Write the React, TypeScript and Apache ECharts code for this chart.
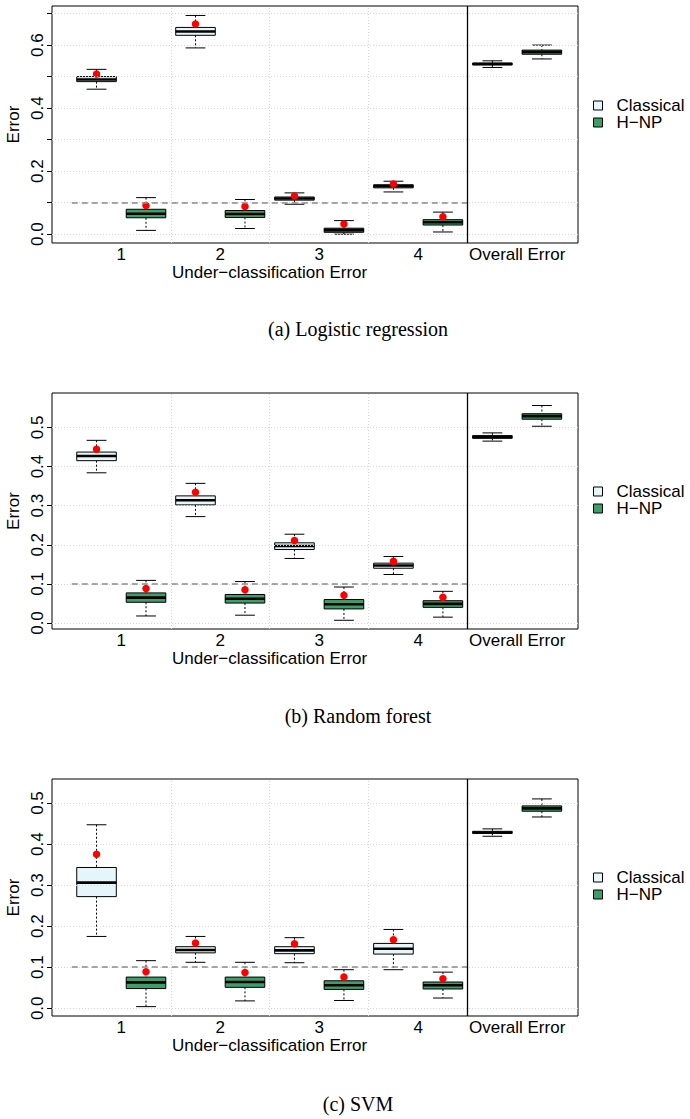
import React, { useEffect, useRef } from "react";
import * as echarts from "echarts";

// ---- data ----
const xLabels = ["1", "2", "3", "4", "Overall Error"];
const xLabelPos = [1.5, 3.5, 5.5, 7.5, 9.5];
const classicalPos = [1, 3, 5, 7, 9];
const hnpPos = [2, 4, 6, 8, 10];
const captions = ["(a) Logistic regression", "(b) Random forest", "(c) SVM"];

// [low whisker, Q1, median, Q3, high whisker]
const lrClassical = [
  [0.46, 0.484, 0.491, 0.5, 0.523],
  [0.591, 0.631, 0.643, 0.656, 0.694],
  [0.095, 0.108, 0.113, 0.118, 0.131],
  [0.134, 0.147, 0.152, 0.157, 0.168],
  [0.529, 0.537, 0.54, 0.543, 0.55],
];
const lrHnp = [
  [0.012, 0.052, 0.065, 0.079, 0.116],
  [0.018, 0.053, 0.064, 0.075, 0.11],
  [0.0, 0.006, 0.013, 0.019, 0.043],
  [0.007, 0.029, 0.038, 0.046, 0.07],
  [0.556, 0.571, 0.578, 0.584, 0.6],
];
const lrClassicalMean = [0.508, 0.667, 0.121, 0.159];
const lrHnpMean = [0.091, 0.088, 0.032, 0.055];

const rfClassical = [
  [0.384, 0.415, 0.427, 0.437, 0.467],
  [0.272, 0.302, 0.314, 0.325, 0.357],
  [0.165, 0.188, 0.197, 0.205, 0.227],
  [0.124, 0.14, 0.147, 0.153, 0.17],
  [0.465, 0.472, 0.476, 0.479, 0.486],
];
const rfHnp = [
  [0.018, 0.053, 0.065, 0.077, 0.109],
  [0.02, 0.051, 0.062, 0.073, 0.106],
  [0.007, 0.036, 0.048, 0.06, 0.092],
  [0.015, 0.04, 0.049, 0.057, 0.081],
  [0.503, 0.521, 0.529, 0.535, 0.556],
];
const rfClassicalMean = [0.444, 0.334, 0.211, 0.158];
const rfHnpMean = [0.088, 0.085, 0.071, 0.066];

const svmClassical = [
  [0.175, 0.272, 0.306, 0.343, 0.447],
  [0.112, 0.135, 0.142, 0.15, 0.175],
  [0.111, 0.133, 0.141, 0.15, 0.172],
  [0.094, 0.132, 0.145, 0.158, 0.192],
  [0.419, 0.426, 0.428, 0.431, 0.437],
];
const svmHnp = [
  [0.004, 0.048, 0.063, 0.076, 0.116],
  [0.018, 0.051, 0.064, 0.076, 0.112],
  [0.019, 0.046, 0.056, 0.067, 0.094],
  [0.025, 0.047, 0.056, 0.064, 0.088],
  [0.466, 0.48, 0.487, 0.493, 0.51],
];
const svmClassicalMean = [0.375, 0.159, 0.157, 0.167];
const svmHnpMean = [0.089, 0.087, 0.076, 0.072];

const lrTicks = [0, 0.1, 0.2, 0.3, 0.4, 0.5, 0.6, 0.7];
const lrTickLabels = [0, 0.2, 0.4, 0.6];
const rfTicks = [0, 0.1, 0.2, 0.3, 0.4, 0.5];
const rfTickLabels = [0, 0.1, 0.2, 0.3, 0.4, 0.5];
const svmTicks = [0, 0.1, 0.2, 0.3, 0.4, 0.5];
const svmTickLabels = [0, 0.1, 0.2, 0.3, 0.4, 0.5];
const targetLevel = 0.1;
const groupBoundaries = [2.5, 4.5, 6.5];
const overallBoundary = 8.5;

// ---- styling ----
const SANS = "'Liberation Sans', Arial, sans-serif";
const SERIF = "'Liberation Serif', 'Times New Roman', serif";
const C_FILL = "#e6f5f9";
const H_FILL = "#3d9e69";

const panels = [
  { classical: lrClassical, hnp: lrHnp, cMean: lrClassicalMean, hMean: lrHnpMean, ticks: lrTicks, labels: lrTickLabels, min: -0.028, max: 0.724, top: 6, height: 237, legendTop: 97, caption: 329 },
  { classical: rfClassical, hnp: rfHnp, cMean: rfClassicalMean, hMean: rfHnpMean, ticks: rfTicks, labels: rfTickLabels, min: -0.0153, max: 0.588, top: 393, height: 236, legendTop: 483, caption: 716 },
  { classical: svmClassical, hnp: svmHnp, cMean: svmClassicalMean, hMean: svmHnpMean, ticks: svmTicks, labels: svmTickLabels, min: -0.0188, max: 0.5585, top: 779, height: 237, legendTop: 869, caption: 1104 },
];

function boxRenderer(fill: string) {
  return (params: any, api: any) => {
    const x = api.value(0);
    const lo = api.coord([x, api.value(1)]);
    const q1 = api.coord([x, api.value(2)]);
    const md = api.coord([x, api.value(3)]);
    const q3 = api.coord([x, api.value(4)]);
    const hi = api.coord([x, api.value(5)]);
    const bw = api.size([0.8, 0])[0];
    const half = bw / 2;
    const cap = bw / 4;
    const cx = lo[0];
    const dashed = { stroke: "#000", lineWidth: 1, lineDash: [2, 2] };
    const solid = { stroke: "#000", lineWidth: 1 };
    return {
      type: "group",
      children: [
        { type: "line", shape: { x1: cx, y1: hi[1], x2: cx, y2: q3[1] }, style: dashed },
        { type: "line", shape: { x1: cx, y1: q1[1], x2: cx, y2: lo[1] }, style: dashed },
        { type: "line", shape: { x1: cx - cap, y1: hi[1], x2: cx + cap, y2: hi[1] }, style: solid },
        { type: "line", shape: { x1: cx - cap, y1: lo[1], x2: cx + cap, y2: lo[1] }, style: solid },
        { type: "rect", shape: { x: cx - half, y: q3[1], width: bw, height: q1[1] - q3[1] }, style: { fill, stroke: "#000", lineWidth: 1 } },
        { type: "line", shape: { x1: cx - half, y1: md[1], x2: cx + half, y2: md[1] }, style: { stroke: "#000", lineWidth: 2.6 } },
      ],
    };
  };
}

function buildOption() {
  const grid: any[] = [];
  const xAxis: any[] = [];
  const yAxis: any[] = [];
  const series: any[] = [];
  const legend: any[] = [];
  const graphic: any[] = [];

  panels.forEach((p, i) => {
    grid.push({ left: 52, top: p.top, width: 526, height: p.height, show: true, borderColor: "#000", borderWidth: 1, backgroundColor: "transparent" });
    xAxis.push({
      type: "value", gridIndex: i, min: 0.1, max: 10.73,
      axisLine: { show: false }, axisTick: { show: false }, splitLine: { show: false },
      axisLabel: {
        customValues: xLabelPos, margin: 5, color: "#000", fontSize: 17, fontFamily: SANS, lineHeight: 13,
        formatter: (v: number) => { const k = xLabelPos.indexOf(v); return k >= 0 ? xLabels[k] : ""; },
      },
    });
    yAxis.push({
      type: "value", gridIndex: i, min: p.min, max: p.max,
      axisLine: { show: false }, splitLine: { show: false },
      axisTick: { show: true, customValues: p.ticks, length: 5, lineStyle: { color: "#000" } },
      axisLabel: {
        customValues: p.labels, rotate: 90, margin: 6, color: "#000", fontSize: 17, fontFamily: SANS,
        formatter: (v: number) => v.toFixed(1),
      },
    });

    // reference lines (grid, threshold, separator)
    const gridLine = { type: [1, 2], color: "#d6d6d6", width: 1 };
    series.push({
      type: "line", xAxisIndex: i, yAxisIndex: i, data: [], silent: true, z: 1,
      markLine: {
        silent: true, symbol: ["none", "none"], label: { show: false }, animation: false,
        data: [
          ...p.ticks.map((t) => ({ yAxis: t, lineStyle: gridLine })),
          ...groupBoundaries.map((b) => ({ xAxis: b, lineStyle: gridLine })),
          [
            { coord: [0.5, targetLevel], lineStyle: { type: [6, 4], color: "#8a8a8a", width: 1.5 } },
            { coord: [overallBoundary, targetLevel] },
          ],
          { xAxis: overallBoundary, lineStyle: { type: "solid", color: "#000", width: 1.3 } },
        ],
      },
    });

    series.push({
      type: "custom", name: "Classical", xAxisIndex: i, yAxisIndex: i, z: 3,
      itemStyle: { color: C_FILL, borderColor: "#000" },
      renderItem: boxRenderer(C_FILL),
      encode: { x: 0, y: [1, 2, 3, 4, 5] },
      data: p.classical.map((b, k) => [classicalPos[k], ...b]),
    });
    series.push({
      type: "custom", name: "H−NP", xAxisIndex: i, yAxisIndex: i, z: 3,
      itemStyle: { color: H_FILL, borderColor: "#000" },
      renderItem: boxRenderer(H_FILL),
      encode: { x: 0, y: [1, 2, 3, 4, 5] },
      data: p.hnp.map((b, k) => [hnpPos[k], ...b]),
    });
    series.push({
      type: "scatter", name: "mean", xAxisIndex: i, yAxisIndex: i, z: 4,
      symbol: "circle", symbolSize: 7.5, itemStyle: { color: "#ff0000", opacity: 1 },
      data: [
        ...p.cMean.map((m, k) => [classicalPos[k], m]),
        ...p.hMean.map((m, k) => [hnpPos[k], m]),
      ],
    });

    legend.push({
      left: 593, top: p.legendTop, padding: 0, orient: "vertical", itemWidth: 9, itemHeight: 9, itemGap: 0,
      selectedMode: false,
      textStyle: { fontSize: 17, fontFamily: SANS, color: "#000", lineHeight: 15, padding: [0, 0, 0, 9] },
      data: [
        { name: "Classical", icon: "rect", itemStyle: { color: C_FILL, borderColor: "#000", borderWidth: 1 } },
        { name: "H−NP", icon: "rect", itemStyle: { color: H_FILL, borderColor: "#000", borderWidth: 1 } },
      ],
    });

    const mid = p.top + p.height / 2;
    const bottom = p.top + p.height;
    graphic.push({
      type: "text", x: 13, y: mid, rotation: Math.PI / 2,
      style: { text: "Error", fontSize: 17, fontFamily: SANS, fill: "#000", textAlign: "center", textVerticalAlign: "middle" },
    });
    graphic.push({
      type: "text", x: 269.6, y: bottom + 29,
      style: { text: "Under−classification Error", fontSize: 17, lineHeight: 13, fontFamily: SANS, fill: "#000", textAlign: "center", textVerticalAlign: "middle" },
    });
    graphic.push({
      type: "text", x: 358, y: p.caption,
      style: { text: captions[i], fontSize: 20, fontFamily: SERIF, fill: "#000", textAlign: "center", textVerticalAlign: "middle" },
    });
  });

  return {
    animation: false,
    backgroundColor: "#fff",
    grid, xAxis, yAxis, series, legend, graphic,
  };
}

export default function App() {
  const ref = useRef<HTMLDivElement>(null);
  useEffect(() => {
    if (!ref.current) return;
    const chart = echarts.init(ref.current, undefined, { renderer: "svg" });
    chart.setOption(buildOption() as any);
    return () => chart.dispose();
  }, []);
  return <div ref={ref} style={{ position: "absolute", left: 0, top: 0, width: 690, height: 1119 }} />;
}
